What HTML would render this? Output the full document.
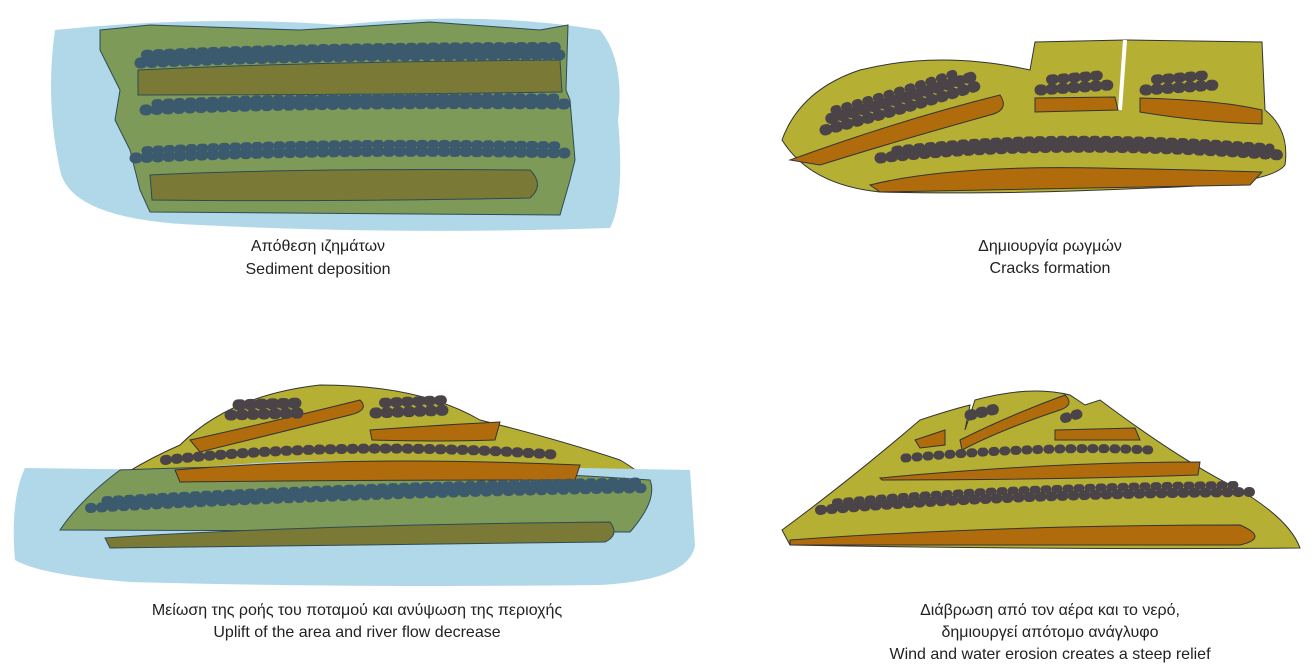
<!DOCTYPE html>
<html><head><meta charset="utf-8"><style>
body{margin:0;background:#fff;width:1316px;height:667px;overflow:hidden}
svg{position:absolute;left:0;top:0}
text{font-family:"Liberation Sans","DejaVu Sans",sans-serif;font-size:16px;fill:#222;text-anchor:middle}
.pb{fill:none;stroke-linecap:round;stroke-dasharray:2 9}
.pb2{fill:none;stroke-linecap:round;stroke-dasharray:3 8;stroke-dashoffset:5}
.g{stroke:#3c5a6e}.y{stroke:#4a4448}
</style></head><body>
<svg width="1316" height="667" viewBox="0 0 1316 667">
<defs>
<g id="x"></g>
</defs>
<!-- Top-left -->
<path d="M55,30 Q200,15 340,25 Q480,10 600,30 Q625,60 618,120 Q625,200 610,228 Q400,235 200,225 Q70,220 60,170 Q45,100 55,30Z" fill="#b0d8e8"/>
<path d="M100,30 L150,25 L300,30 L430,22 L540,30 L568,25 L566,90 L570,100 L575,160 L570,180 L560,215 L150,212 L140,190 L130,150 L115,120 L120,90 L100,50Z" fill="#7e9a58" stroke="#2f4a55" stroke-width="1"/>
<path d="M138,70 Q300,62 560,60 L562,92 Q350,95 138,95Z" fill="#7a7a36" stroke="#2f4a55" stroke-width="1"/>
<path d="M150,175 Q300,168 530,170 Q545,185 530,198 Q330,202 152,200Z" fill="#7a7a36" stroke="#2f4a55" stroke-width="1"/>
<path d="M140,63 Q300,55 560,55" class="pb g" stroke-width="11"/>
<path d="M140,55 Q300,47 560,47" class="pb2 g" stroke-width="10"/>
<path d="M145,110 Q300,102 565,104" class="pb g" stroke-width="11"/>
<path d="M150,104 Q300,96 560,98" class="pb2 g" stroke-width="9"/>
<path d="M135,158 Q330,148 565,153" class="pb g" stroke-width="11"/>
<path d="M140,151 Q330,141 560,146" class="pb2 g" stroke-width="9"/>
<text x="318" y="251">Απόθεση ιζημάτων</text>
<text x="318" y="274">Sediment deposition</text>

<!-- Top-right -->
<path d="M782,140 Q800,90 860,70 Q940,50 1030,70 L1035,42 L1125,40 L1128,40 L1262,42 L1265,110 Q1290,130 1285,165 Q1270,185 1150,188 Q1000,195 880,192 Q810,185 782,140Z" fill="#b5b033" stroke="#333" stroke-width="1"/>
<path d="M1125,40 L1120,110" stroke="#fff" stroke-width="4"/>
<path d="M790,160 Q900,120 1000,95 Q1010,110 990,115 Q900,140 820,165 Z" fill="#b06c0c" stroke="#333" stroke-width="1"/>
<path d="M1035,98 L1115,97 L1118,110 L1035,112Z" fill="#b06c0c" stroke="#333" stroke-width="1"/>
<path d="M1140,98 Q1220,100 1262,110 L1262,124 Q1200,122 1140,112Z" fill="#b06c0c" stroke="#333" stroke-width="1"/>
<path d="M870,185 Q950,165 1100,168 Q1200,170 1262,172 L1250,185 Q1050,188 880,192Z" fill="#b06c0c" stroke="#333" stroke-width="1"/>
<path d="M825,130 Q900,110 980,85" class="pb y" stroke-width="11"/>
<path d="M825,120 Q900,100 975,76" class="pb2 y" stroke-width="11"/>
<path d="M835,110 Q900,92 960,72" class="pb y" stroke-width="9"/>
<path d="M880,158 Q1050,138 1280,155" class="pb y" stroke-width="11"/>
<path d="M890,151 Q1050,131 1270,148" class="pb2 y" stroke-width="9"/>
<path d="M1040,90 L1110,85" class="pb y" stroke-width="11"/>
<path d="M1045,80 L1105,75" class="pb2 y" stroke-width="10"/>
<path d="M1145,90 L1215,85" class="pb y" stroke-width="11"/>
<path d="M1150,80 L1210,75" class="pb2 y" stroke-width="10"/>
<text x="1050" y="251">Δημιουργία ρωγμών</text>
<text x="1050" y="273">Cracks formation</text>

<!-- Bottom-left -->
<path d="M60,530 Q100,480 180,445 Q230,395 320,385 Q420,385 480,420 Q560,440 620,460 Q655,480 655,500 Q640,525 620,532 Q350,540 60,530Z" fill="#b5b033" stroke="#333" stroke-width="1"/>
<path d="M25,468 L180,470 Q300,455 420,465 L690,470 L695,545 Q690,580 600,585 Q350,588 130,582 Q40,575 15,560 Q10,500 25,468Z" fill="#b0d8e8"/>
<path d="M120,470 Q350,460 650,480 Q658,500 630,532 L60,530 Q80,500 120,470Z" fill="#7e9a58" stroke="#2f4a55" stroke-width="1"/>
<path d="M105,538 Q300,525 610,522 Q620,535 605,542 L110,548Z" fill="#7a7a36" stroke="#2f4a55" stroke-width="1"/>
<path d="M190,440 Q280,420 360,400 Q370,410 350,415 Q290,430 200,452Z" fill="#b06c0c" stroke="#333" stroke-width="1"/>
<path d="M370,430 Q440,425 500,422 L495,440 Q430,442 372,440Z" fill="#b06c0c" stroke="#333" stroke-width="1"/>
<path d="M175,470 Q350,455 580,465 L575,480 Q350,480 180,482Z" fill="#b06c0c" stroke="#333" stroke-width="1"/>
<path d="M230,415 L300,413" class="pb y" stroke-width="11"/>
<path d="M232,405 L300,403" class="pb2 y" stroke-width="11"/>
<path d="M375,413 L450,410" class="pb y" stroke-width="11"/>
<path d="M378,403 L448,400" class="pb2 y" stroke-width="10"/>
<path d="M165,460 Q350,440 560,455" class="pb y" stroke-width="10"/>
<path d="M90,508 Q350,493 650,488" class="pb g" stroke-width="10"/>
<path d="M100,501 Q350,486 640,482" class="pb2 g" stroke-width="9"/>
<text x="357" y="615">Μείωση της ροής του ποταμού και ανύψωση της περιοχής</text>
<text x="357" y="637">Uplift of the area and river flow decrease</text>

<!-- Bottom-right -->
<path d="M782,530 Q850,480 920,420 Q950,410 970,405 L965,430 L975,400 Q1030,385 1070,395 L1085,405 L1100,400 Q1180,460 1240,490 Q1290,520 1300,548 Q1050,550 790,545Z" fill="#b5b033" stroke="#333" stroke-width="1"/>
<path d="M915,440 L945,430 L945,445 L920,448Z" fill="#b06c0c" stroke="#333" stroke-width="1"/>
<path d="M960,440 Q1010,415 1065,395 Q1075,405 1060,410 Q1000,430 962,450Z" fill="#b06c0c" stroke="#333" stroke-width="1"/>
<path d="M1055,430 L1135,428 L1140,440 L1055,440Z" fill="#b06c0c" stroke="#333" stroke-width="1"/>
<path d="M880,478 Q1050,462 1200,462 L1198,475 Q1050,480 882,480Z" fill="#b06c0c" stroke="#333" stroke-width="1"/>
<path d="M790,540 Q1000,525 1240,525 Q1270,538 1240,545 L790,545Z" fill="#b06c0c" stroke="#333" stroke-width="1"/>
<path d="M970,415 L1000,408" class="pb y" stroke-width="11"/>
<path d="M1065,418 L1085,412" class="pb y" stroke-width="10"/>
<path d="M905,458 Q1050,445 1150,450" class="pb y" stroke-width="9"/>
<path d="M820,510 Q1000,494 1250,492" class="pb y" stroke-width="10"/>
<path d="M830,503 Q1000,487 1240,485" class="pb2 y" stroke-width="8"/>
<text x="1050" y="615">Διάβρωση από τον αέρα και το νερό,</text>
<text x="1050" y="637">δημιουργεί απότομο ανάγλυφο</text>
<text x="1050" y="659">Wind and water erosion creates a steep relief</text>
</svg>
</body></html>
